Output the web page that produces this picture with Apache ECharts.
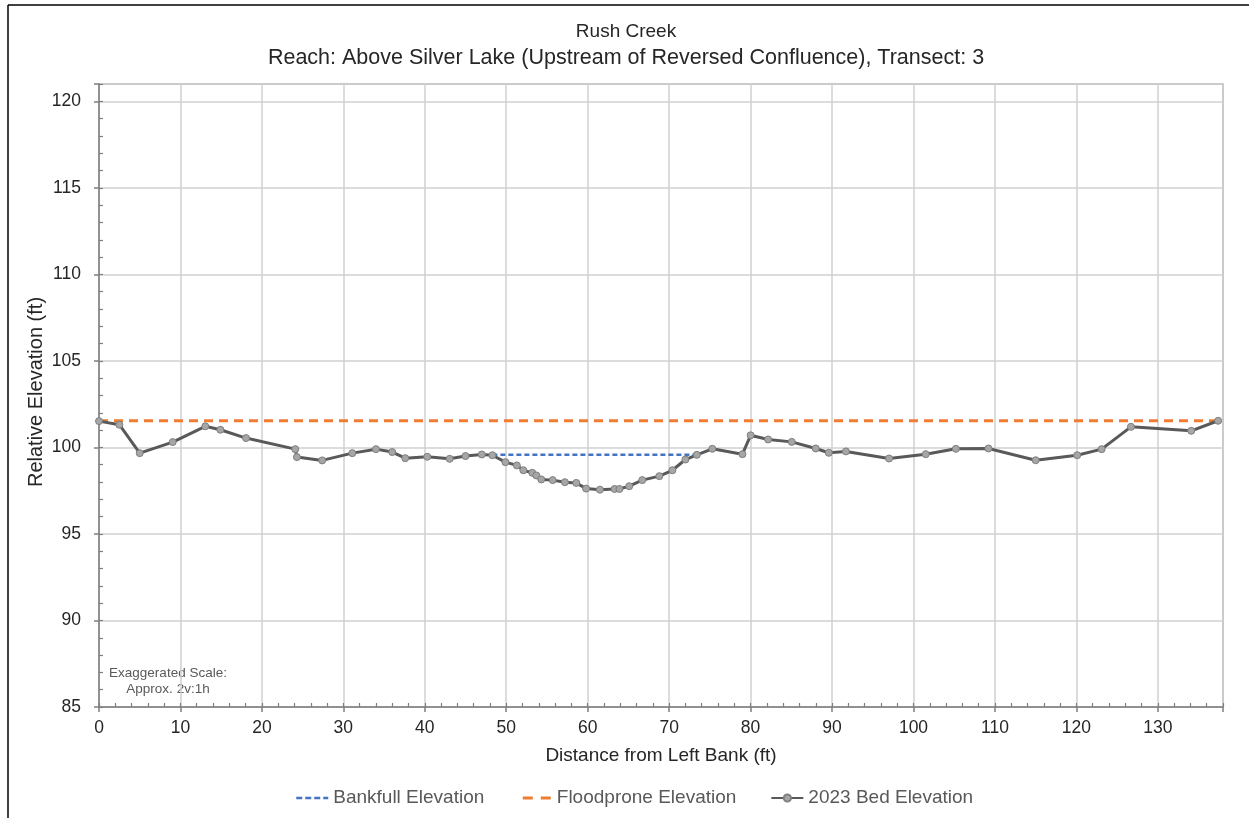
<!DOCTYPE html>
<html>
<head>
<meta charset="utf-8">
<script src="https://cdn.jsdelivr.net/npm/echarts@6/dist/echarts.min.js"></script>
<style>
html,body{margin:0;padding:0;background:#fff;}
#chart{width:1252px;height:818px;}
</style>
</head>
<body>
<div id="chart"></div>
<script>
// Station (ft from left bank) and relative elevation (ft) of surveyed bed points
const bedStations = [0, 2.5, 5.0, 9.05, 13.05, 14.9, 18.05, 24.1, 24.3, 27.4,
  31.1, 34.0, 36.0, 37.6, 40.3, 43.05, 45.0, 47.0, 48.3, 49.9,
  51.3, 52.1, 53.2, 53.7, 54.3, 55.7, 57.2, 58.6, 59.8, 61.5,
  63.3, 63.9, 65.1, 66.7, 68.8, 70.4, 72.0, 73.4, 75.3, 79.0,
  80.0, 82.15, 85.05, 88.0, 89.6, 91.7, 97.0, 101.5, 105.2, 109.2,
  115.0, 120.1, 123.1, 126.7, 134.1, 137.4];
const bedElevations = [101.52, 101.31, 99.67, 100.31, 101.22, 101.02, 100.54, 99.9, 99.44, 99.25,
  99.67, 99.9, 99.73, 99.38, 99.46, 99.34, 99.5, 99.59, 99.55, 99.15,
  98.96, 98.68, 98.53, 98.38, 98.15, 98.11, 97.99, 97.95, 97.62, 97.56,
  97.6, 97.6, 97.76, 98.11, 98.34, 98.68, 99.3, 99.57, 99.92, 99.61,
  100.7, 100.46, 100.32, 99.94, 99.69, 99.77, 99.36, 99.61, 99.92, 99.94,
  99.26, 99.55, 99.9, 101.19, 100.96, 101.54];
const bankfullStations = [48.3, 73.2];
const bankfullElevations = [99.57, 99.57];
const floodproneStations = [0, 137.4];
const floodproneElevations = [101.54, 101.54];
const xTicks = [0, 10, 20, 30, 40, 50, 60, 70, 80, 90, 100, 110, 120, 130];
const yTicks = [85, 90, 95, 100, 105, 110, 115, 120];
const seriesNames = ['Bankfull Elevation', 'Floodprone Elevation', '2023 Bed Elevation'];

const zip = (xs, ys) => xs.map((x, i) => [x, ys[i]]);
const font = 'Liberation Sans, Arial, sans-serif';
const hidden = {color: 'rgba(0,0,0,0)', borderColor: 'rgba(0,0,0,0)', borderWidth: 0};

const chart = echarts.init(document.getElementById('chart'));
chart.setOption({
  animation: false,
  backgroundColor: '#ffffff',
  title: [{
    text: 'Rush Creek',
    left: 'center', top: 17,
    textStyle: {fontFamily: font, fontSize: 19, fontWeight: 'normal', color: '#262626'}
  }, {
    text: 'Reach: Above Silver Lake (Upstream of Reversed Confluence), Transect: 3',
    left: 'center', top: 42,
    textStyle: {fontFamily: font, fontSize: 21.5, fontWeight: 'normal', color: '#262626'}
  }],
  grid: {left: 99, right: 29, top: 84, bottom: 111, show: true, borderColor: '#a6a6a6', borderWidth: 1.5, containLabel: false},
  legend: {
    data: [
      {name: seriesNames[0], itemStyle: hidden, lineStyle: {type: [6, 3], width: 2.5}},
      {name: seriesNames[1], itemStyle: hidden, lineStyle: {type: [10, 8], dashOffset: 15, width: 3}},
      {name: seriesNames[2]}
    ],
    top: 782,
    left: 290,
    itemWidth: 32,
    itemHeight: 9,
    itemGap: 34,
    textStyle: {fontFamily: font, fontSize: 19, color: '#595959', lineHeight: 22}
  },
  xAxis: [{
    type: 'value', min: 0, max: 138, interval: 10,
    name: 'Distance from Left Bank (ft)', nameLocation: 'middle', nameGap: 39,
    nameTextStyle: {fontFamily: font, fontSize: 19, color: '#262626'},
    axisLine: {show: true, onZero: false, lineStyle: {color: '#7f7f7f', width: 1.5}},
    axisTick: {show: true, inside: false, length: 5, lineStyle: {color: '#7f7f7f', width: 1.5}},
    axisLabel: {fontFamily: font, fontSize: 17.5, color: '#262626', margin: 12,
      formatter: v => xTicks.includes(v) ? String(v) : ''},
    splitLine: {show: true, lineStyle: {color: '#d0d0d0', width: 1.5}}
  }, {
    type: 'value', min: 0, max: 138, interval: 2, position: 'bottom',
    axisLine: {show: false, onZero: false},
    axisTick: {show: true, inside: true, length: 4, lineStyle: {color: '#7f7f7f', width: 1.2}},
    axisLabel: {show: false},
    splitLine: {show: false}
  }],
  yAxis: [{
    type: 'value', min: 85, max: 121, interval: 5,
    axisLine: {show: true, onZero: false, lineStyle: {color: '#7f7f7f', width: 1.5}},
    axisTick: {show: true, inside: false, length: 5, lineStyle: {color: '#7f7f7f', width: 1.5}},
    axisLabel: {fontFamily: font, fontSize: 17.5, color: '#262626', margin: 18,
      formatter: v => yTicks.includes(v) ? String(v) : ''},
    splitLine: {show: true, lineStyle: {color: '#d0d0d0', width: 1.5}}
  }, {
    type: 'value', min: 85, max: 121, interval: 1, position: 'left',
    axisLine: {show: false, onZero: false},
    axisTick: {show: true, inside: true, length: 4, lineStyle: {color: '#7f7f7f', width: 1.2}},
    axisLabel: {show: false},
    splitLine: {show: false}
  }],
  graphic: [
    {type: 'line', shape: {x1: 8, y1: 5, x2: 8, y2: 830}, style: {stroke: '#000', lineWidth: 1.5}, silent: true},
    {type: 'line', shape: {x1: 8, y1: 5, x2: 1249, y2: 5}, style: {stroke: '#000', lineWidth: 1.5}, silent: true},
    {type: 'text', x: 36, y: 392, rotation: Math.PI / 2,
      style: {text: 'Relative Elevation (ft)', fontFamily: font, fontSize: 20, fill: '#262626', align: 'center', verticalAlign: 'middle'}},
    {type: 'text', x: 168, y: 681,
      style: {text: 'Exaggerated Scale:\nApprox. 2v:1h', fontFamily: font, fontSize: 13.5, fill: '#595959', align: 'center', verticalAlign: 'middle', lineHeight: 16}}
  ],
  series: [{
    name: seriesNames[0], type: 'line', xAxisIndex: 0, yAxisIndex: 0,
    data: zip(bankfullStations, bankfullElevations),
    showSymbol: false, symbol: 'none',
    lineStyle: {color: '#4472c4', width: 2.5, type: [5, 3]},
    itemStyle: {color: '#4472c4'}, z: 3
  }, {
    name: seriesNames[1], type: 'line', xAxisIndex: 0, yAxisIndex: 0,
    data: zip(floodproneStations, floodproneElevations),
    showSymbol: false, symbol: 'none',
    lineStyle: {color: '#ed7d31', width: 3, type: [9, 6]},
    itemStyle: {color: '#ed7d31'}, z: 2
  }, {
    name: seriesNames[2], type: 'line', xAxisIndex: 0, yAxisIndex: 0,
    data: zip(bedStations, bedElevations),
    symbol: 'circle', symbolSize: 7,
    lineStyle: {color: '#595959', width: 3},
    itemStyle: {color: '#a6a6a6', borderColor: '#7f7f7f', borderWidth: 1},
    z: 4
  }]
});
</script>
</body>
</html>
